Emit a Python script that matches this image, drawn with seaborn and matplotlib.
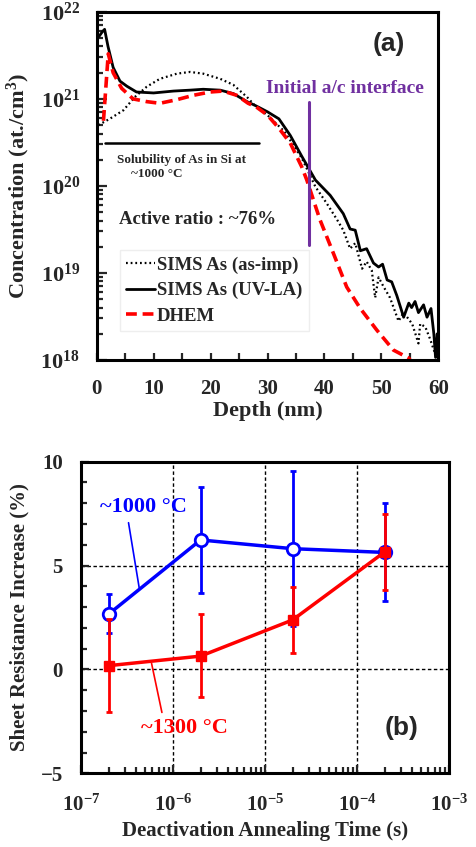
import numpy as np
import pandas as pd
import matplotlib
matplotlib.use("Agg")
import matplotlib.pyplot as plt
import matplotlib.ticker as mticker
import seaborn as sns

# ---- panel (a): depth profiles ----
asimp_depth = [0.3, 2.3, 4.7, 6.7, 8.8, 11.1, 14.1, 16.4, 18.7, 21.7, 24.0, 26.4, 28.0, 30.0,
               33.0, 36.0, 38.4, 40.4, 42.2, 43.3, 44.5, 45.4, 46.6, 47.4, 48.3, 48.9, 49.5,
               50.4, 51.5, 53.0, 53.9, 55.4, 56.5, 56.8, 57.7, 58.6, 59.2, 60.0]
asimp_conc = [5.0e20, 5.9e20, 7.4e20, 1.05e21, 1.38e21, 1.7e21, 1.95e21, 2.04e21, 1.95e21,
              1.7e21, 1.45e21, 1.05e21, 8.1e20, 6.5e20, 4.2e20, 2.1e20, 9.8e19, 6.3e19,
              4.1e19, 3.1e19, 1.9e19, 2.2e19, 1.12e19, 1.35e19, 1.07e19, 5.2e18, 8.9e18,
              6.9e18, 5.2e18, 2.8e18, 3.5e18, 2.6e18, 1.55e18, 2.6e18, 2.4e18, 1.7e18,
              1.3e18, 1.0e18]

uvla_depth = [0.4, 1.0, 1.4, 2.0, 2.9, 4.1, 5.3, 7.0, 10.0, 13.5, 16.4, 18.7, 21.7, 24.0,
              26.4, 28.0, 30.0, 32.0, 34.0, 36.0, 38.4, 41.0, 43.3, 44.5, 45.4, 46.3, 47.4,
              48.6, 49.5, 50.2, 51.0, 51.8, 52.7, 53.9, 54.8, 55.3, 55.9, 56.5, 57.4, 58.0,
              58.7, 59.2, 59.5, 59.8, 60.0]
uvla_conc = [5.2e21, 5.9e21, 6.3e21, 4.0e21, 2.3e21, 1.6e21, 1.4e21, 1.2e21, 1.17e21,
             1.23e21, 1.26e21, 1.29e21, 1.26e21, 1.15e21, 9.3e20, 8.3e20, 7.1e20, 5.9e20,
             3.8e20, 2.2e20, 1.17e20, 7.8e19, 4.8e19, 3.2e19, 3.1e19, 1.8e19, 1.9e19,
             1.3e19, 1.17e19, 1.26e19, 8.3e18, 7.9e18, 5.5e18, 3.1e18, 4.5e18, 4.0e18,
             4.7e18, 3.5e18, 4.3e18, 3.1e18, 3.9e18, 2.0e18, 1.07e18, 2.0e18, 1.0e18]

dhem_depth = [1.2, 2.04, 2.9, 4.4, 6.4, 8.8, 11.1, 14.1, 17.0, 19.9, 22.2, 24.6, 26.6, 28.0,
              30.0, 32.0, 34.0, 36.0, 36.9, 39.2, 41.6, 43.9, 46.3, 49.2, 52.1, 54.8, 55.5]
dhem_conc = [5.6e20, 3.3e21, 2.0e21, 1.32e21, 1.0e21, 9.3e20, 8.9e20, 9.8e20, 1.1e21,
             1.2e21, 1.23e21, 1.1e21, 8.9e20, 8.1e20, 6.5e20, 4.6e20, 3.1e20, 1.66e20,
             1.17e20, 4.1e19, 1.66e19, 6.9e18, 3.9e18, 2.2e18, 1.3e18, 1.05e18, 8.9e17]

solubility_x = [1.5, 28.5]
solubility_y = [3.1e20, 3.1e20]
interface_x = [37.3, 37.3]
interface_y = [9.3e20, 2.1e19]

# ---- panel (b): sheet resistance ----
anneal_time = [2e-7, 2e-6, 2e-5, 2e-4]
rs_1000 = [2.66, 6.23, 5.81, 5.63]
rs_1000_lo = [1.74, 3.66, 2.10, 3.31]
rs_1000_hi = [3.61, 8.80, 9.55, 8.02]
rs_1300 = [0.18, 0.64, 2.38, 5.65]
rs_1300_lo = [-2.05, -1.35, 0.77, 3.82]
rs_1300_hi = [2.41, 2.66, 3.98, 7.48]

sns.set_theme(style="ticks")
plt.rcParams["font.family"] = ["Liberation Serif", "DejaVu Serif"]
plt.rcParams["font.weight"] = "bold"
plt.rcParams["axes.labelweight"] = "bold"
plt.rcParams["mathtext.fontset"] = "custom"
plt.rcParams["mathtext.rm"] = "Liberation Serif:bold"
plt.rcParams["mathtext.bf"] = "Liberation Serif:bold"
plt.rcParams["mathtext.it"] = "Liberation Serif:bold:italic"
plt.rcParams["axes.unicode_minus"] = True

fig = plt.figure(figsize=(4.76, 8.47), dpi=100)
ax1 = fig.add_axes([0.203, 0.575, 0.718, 0.411])
ax2 = fig.add_axes([0.170, 0.087, 0.773, 0.368])

prof = pd.concat([
    pd.DataFrame({"depth": asimp_depth, "conc": asimp_conc, "series": "SIMS As (as-imp)"}),
    pd.DataFrame({"depth": uvla_depth, "conc": uvla_conc, "series": "SIMS As (UV-LA)"}),
    pd.DataFrame({"depth": dhem_depth, "conc": dhem_conc, "series": "DHEM"}),
])

styles = {
    "SIMS As (as-imp)": dict(color="black", lw=1.6, ls=(0, (0.8, 1.3))),
    "SIMS As (UV-LA)": dict(color="black", lw=2.0, ls="-"),
    "DHEM": dict(color="#ff0000", lw=2.6, ls=(0, (3.0, 1.6))),
}
for name, sty in styles.items():
    sub = prof[prof["series"] == name]
    sns.lineplot(data=sub, x="depth", y="conc", ax=ax1, sort=False, estimator=None,
                 color=sty["color"], linewidth=sty["lw"], linestyle=sty["ls"], label=name)

ax1.plot(solubility_x, solubility_y, color="black", lw=1.8)
ax1.plot(interface_x, interface_y, color="#7030a0", lw=2.2)

ax1.set_yscale("log")
ax1.set_xlim(0, 60)
ax1.set_ylim(1e18, 1e22)
ax1.set_xlabel("Depth (nm)", fontsize=16, labelpad=1)
ax1.set_ylabel("Concentration (at./cm$^{\\mathdefault{3}}$)", fontsize=16, labelpad=6)
ax1.xaxis.set_major_locator(mticker.MultipleLocator(10))
ax1.xaxis.set_minor_locator(mticker.MultipleLocator(5))
ax1.yaxis.set_major_locator(mticker.LogLocator(base=10, numticks=10))
ax1.yaxis.set_minor_locator(mticker.LogLocator(base=10, subs=np.arange(2, 10), numticks=10))
ax1.yaxis.set_minor_formatter(mticker.NullFormatter())
ax1.tick_params(axis="both", which="both", direction="in", top=False, right=False,
                labelsize=15, width=1.6)
ax1.tick_params(axis="y", which="major", length=7, labelsize=16, pad=12)
ax1.tick_params(axis="y", which="minor", length=4)
ax1.tick_params(axis="x", which="both", length=5, pad=14)
for sp in ax1.spines.values():
    sp.set_linewidth(2.2)
    sp.set_color("black")

leg = ax1.legend(loc="lower left", bbox_to_anchor=(0.04, 0.055), fontsize=13.5,
                 handlelength=1.55, handletextpad=0.1, labelspacing=0.45, borderpad=0.35,
                 frameon=True, fancybox=False, edgecolor="#eeeeee", framealpha=1)
for t in leg.get_texts():
    t.set_fontweight("bold")

ax1.text(43.6, 1.3e21, "Initial a/c interface", color="#7030a0", fontsize=14,
         fontweight="bold", ha="center", va="center")
ax1.text(14.9, 2.0e20, "Solubility of As in Si at", fontsize=9.5, fontweight="bold",
         ha="center", va="center")
ax1.text(10.5, 1.38e20, "~1000 \u00b0C", fontsize=9.5, fontweight="bold",
         ha="center", va="center")
ax1.text(17.7, 4.1e19, "Active ratio : ~76%", fontsize=13.5, fontweight="bold",
         ha="center", va="center")
ax1.text(0.854, 0.909, "(a)", transform=ax1.transAxes, fontsize=19, fontweight="bold",
         family=["Liberation Sans", "DejaVu Sans"], ha="center", va="center")

# panel (b)
ax2.grid(True, which="major", color="black", ls=(0, (2.5, 1.8)), lw=1.0)
ax2.set_axisbelow(True)

ax2.errorbar(anneal_time, rs_1000,
             yerr=[np.array(rs_1000) - np.array(rs_1000_lo), np.array(rs_1000_hi) - np.array(rs_1000)],
             fmt="none", ecolor="#0000ff", elinewidth=2, capsize=2.2, capthick=2, zorder=3)
sns.lineplot(x=anneal_time, y=rs_1000, ax=ax2, color="#0000ff", linewidth=2.5, marker="o",
             markersize=9, markerfacecolor="white", markeredgecolor="#0000ff",
             markeredgewidth=2, zorder=4)
ax2.errorbar(anneal_time, rs_1300,
             yerr=[np.array(rs_1300) - np.array(rs_1300_lo), np.array(rs_1300_hi) - np.array(rs_1300)],
             fmt="none", ecolor="#ff0000", elinewidth=2, capsize=2.2, capthick=2, zorder=5)
sns.lineplot(x=anneal_time, y=rs_1300, ax=ax2, color="#ff0000", linewidth=2.5, marker="s",
             markersize=7.5, markerfacecolor="#ff0000", markeredgecolor="#ff0000",
             markeredgewidth=1, zorder=6)

ax2.set_xscale("log")
ax2.set_xlim(1e-7, 1e-3)
ax2.set_ylim(-5, 10)
ax2.set_xlabel("Deactivation Annealing Time (s)", fontsize=15, labelpad=4)
ax2.set_ylabel("Sheet Resistance Increase (%)", fontsize=15, labelpad=8)
ax2.yaxis.set_major_locator(mticker.MultipleLocator(5))
ax2.yaxis.set_minor_locator(mticker.MultipleLocator(1))
ax2.xaxis.set_major_locator(mticker.LogLocator(base=10, numticks=10))
ax2.xaxis.set_minor_locator(mticker.LogLocator(base=10, subs=np.arange(2, 10), numticks=10))
ax2.xaxis.set_minor_formatter(mticker.NullFormatter())
ax2.tick_params(axis="both", which="both", direction="in", top=False, right=False,
                labelsize=15, width=1.6)
ax2.tick_params(axis="both", which="major", length=6)
ax2.tick_params(axis="both", which="minor", length=4)
ax2.tick_params(axis="x", which="major", pad=15)
ax2.tick_params(axis="y", which="major", pad=13)
for sp in ax2.spines.values():
    sp.set_linewidth(2.2)
    sp.set_color("black")

ax2.annotate("~1000 \u00b0C", xy=(4.31e-7, 3.9), xytext=(4.75e-7, 7.83),
             color="#0000ff", fontsize=16, fontweight="bold", ha="center", va="center",
             arrowprops=dict(arrowstyle="-", color="#0000ff", lw=1.2, shrinkA=2, shrinkB=0,
                             relpos=(0.32, 0.0)))
ax2.annotate("~1300 \u00b0C", xy=(5.86e-7, 0.29), xytext=(1.35e-6, -2.84),
             color="#ff0000", fontsize=16, fontweight="bold", ha="center", va="center",
             arrowprops=dict(arrowstyle="-", color="#ff0000", lw=1.2, shrinkA=2, shrinkB=0,
                             relpos=(0.25, 1.0)))
ax2.text(0.871, 0.144, "(b)", transform=ax2.transAxes, fontsize=19, fontweight="bold",
         family=["Liberation Sans", "DejaVu Sans"], ha="center", va="center")

fig.savefig("out.png", dpi=100)
